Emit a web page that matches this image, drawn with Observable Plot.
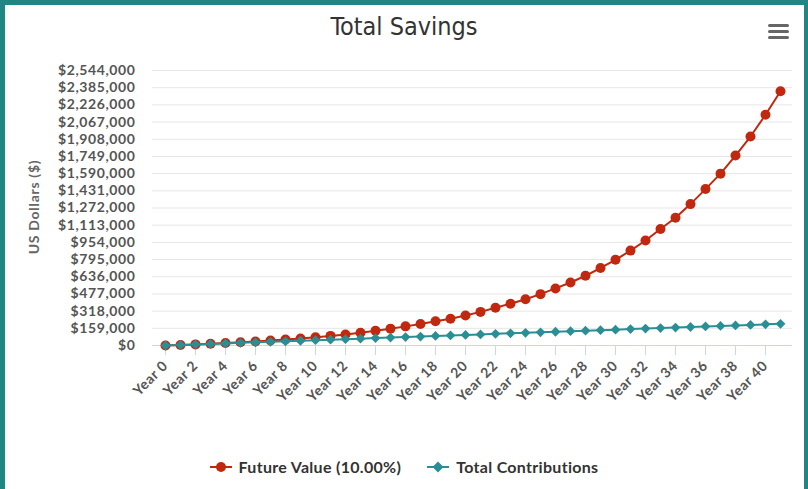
<!DOCTYPE html>
<html><head><meta charset="utf-8">
<script src="https://cdn.jsdelivr.net/npm/d3@7"></script>
<script src="https://cdn.jsdelivr.net/npm/@observablehq/plot@0.6"></script>
<style>
html,body{margin:0;padding:0;background:#fff;}
body{position:relative;width:808px;height:489px;overflow:hidden;font-family:Lato,"Open Sans",sans-serif;}
#border{position:absolute;left:0;top:0;width:808px;height:489px;box-sizing:border-box;border-left:5px solid #1f8683;border-top:5px solid #1f8683;border-right:4px solid #1f8683;pointer-events:none;z-index:5;}
#title{position:absolute;left:0;top:12px;width:808px;text-align:center;font-family:"DejaVu Sans",sans-serif;font-stretch:condensed;font-size:25px;line-height:30px;color:#333;}
#menu{position:absolute;left:768px;top:24px;width:21px;}
#menu div{height:3px;background:#666;border-radius:1.5px;margin-bottom:3px;}
#chart{position:absolute;left:0;top:0;}
#ylabel{position:absolute;left:33px;top:207px;transform:translate(-50%,-50%) rotate(-90deg);white-space:nowrap;font-weight:bold;font-size:14px;letter-spacing:0.7px;color:#666;}
#legend{position:absolute;left:0;top:457px;width:808px;display:flex;justify-content:center;align-items:center;font-weight:bold;font-size:16px;letter-spacing:0.3px;color:#333;}
.item{display:flex;align-items:center;margin:0 13px;}
.item svg{margin-right:7px;}
</style></head>
<body>
<div id="chart"></div>
<div id="title">Total Savings</div>
<div id="menu"><div></div><div></div><div></div></div>
<div id="ylabel">US Dollars ($)</div>
<div id="legend"></div>
<div id="border"></div>
<script>
const years = ["Year 0","Year 1","Year 2","Year 3","Year 4","Year 5","Year 6","Year 7","Year 8","Year 9","Year 10","Year 11","Year 12","Year 13","Year 14","Year 15","Year 16","Year 17","Year 18","Year 19","Year 20","Year 21","Year 22","Year 23","Year 24","Year 25","Year 26","Year 27","Year 28","Year 29","Year 30","Year 31","Year 32","Year 33","Year 34","Year 35","Year 36","Year 37","Year 38","Year 39","Year 40","Year 41"];
const xTickLabels = ["Year 0","Year 2","Year 4","Year 6","Year 8","Year 10","Year 12","Year 14","Year 16","Year 18","Year 20","Year 22","Year 24","Year 26","Year 28","Year 30","Year 32","Year 34","Year 36","Year 38","Year 40"];
const futureValue = [0,4800,10100,15900,22300,29300,37000,45500,54800,65100,76400,88800,102500,117500,136000,156000,177000,199000,224000,248000,277000,311000,350000,387000,428000,475000,528000,583000,645000,717000,793000,878000,971000,1077000,1182000,1308000,1447000,1590000,1757000,1933000,2135000,2352000];
const totalContributions = [0,4890,9780,14670,19560,24450,29340,34230,39120,44010,48900,53790,58680,63570,68460,73350,78240,83130,88020,92910,97800,102690,107580,112470,117360,122250,127140,132030,136920,141810,146700,151590,156480,161370,166260,171150,176040,180930,185820,190710,195600,200490];
const yTicks = [0,159000,318000,477000,636000,795000,954000,1113000,1272000,1431000,1590000,1749000,1908000,2067000,2226000,2385000,2544000];
const seriesNames = ["Future Value (10.00%)","Total Contributions"];
const red = "#c0290f", teal = "#2a8f94";

const fv = years.map((y,i)=>({year:y, value:futureValue[i]}));
const tc = years.map((y,i)=>({year:y, value:totalContributions[i]}));

const chart = Plot.plot({
  width: 808, height: 420,
  marginTop: 70, marginBottom: 75, marginLeft: 152, marginRight: 16,
  style: {fontFamily: "Lato, 'Open Sans', sans-serif", fontSize: "14px", fontWeight: "bold", color: "#555", background: "transparent", letterSpacing: "0.6px"},
  x: {type: "point", domain: years, padding: 0.5},
  y: {domain: [0, 2544000]},
  marks: [
    Plot.gridY(yTicks, {stroke: "#e6e6e6", strokeOpacity: 1}),
    Plot.ruleY([0], {stroke: "#ccd6eb", strokeOpacity: 1}),
    Plot.axisX(xTickLabels, {tickRotate: -45, tickSize: 10, stroke: "#ccd6eb", strokeOpacity: 1, fill: "#555", tickPadding: 8, label: null}),
    Plot.axisY(yTicks, {tickSize: 0, tickPadding: 17, fill: "#555", tickFormat: d => "$" + d3.format(",")(d), label: null}),
    Plot.line(fv, {x: "year", y: "value", stroke: red, strokeWidth: 2}),
    Plot.dot(fv, {x: "year", y: "value", r: 5, fill: red, symbol: "circle"}),
    Plot.line(tc, {x: "year", y: "value", stroke: teal, strokeWidth: 2}),
    Plot.dot(tc, {x: "year", y: "value", r: 4.4, fill: teal, symbol: "diamond2"})
  ]
});
document.getElementById("chart").appendChild(chart);

const legend = document.getElementById("legend");
const syms = [
  `<svg width="22" height="12"><line x1="0" y1="6" x2="22" y2="6" stroke="${red}" stroke-width="2"/><circle cx="11" cy="6" r="5" fill="${red}"/></svg>`,
  `<svg width="22" height="12"><line x1="0" y1="6" x2="22" y2="6" stroke="${teal}" stroke-width="2"/><path d="M11 0.5 L16.5 6 L11 11.5 L5.5 6 Z" fill="${teal}"/></svg>`
];
seriesNames.forEach((n,i)=>{
  const d = document.createElement("div");
  d.className = "item";
  d.innerHTML = syms[i];
  const s = document.createElement("span");
  s.textContent = n;
  d.appendChild(s);
  legend.appendChild(d);
});
</script>
</body></html>
